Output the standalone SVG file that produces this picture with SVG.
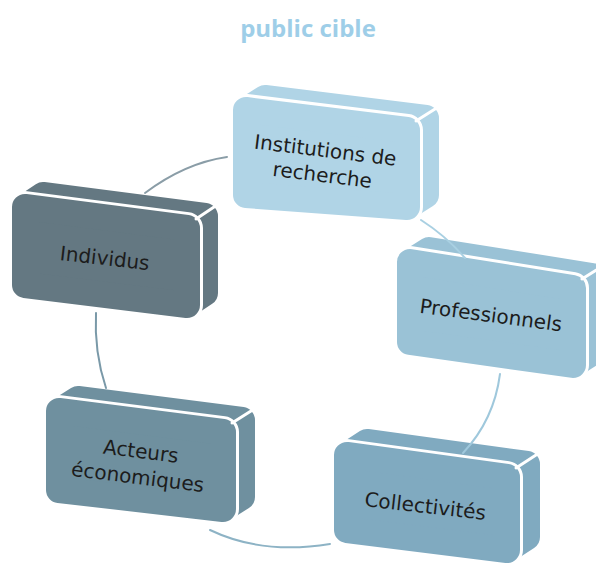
<svg xmlns="http://www.w3.org/2000/svg" width="596" height="566" viewBox="0 0 596 566">
<style>
.body{stroke-width:26;stroke-linejoin:round}
.fw{fill:#fff;stroke:#fff;stroke-width:32;stroke-linejoin:round}
.front{stroke-width:26;stroke-linejoin:round}
.edge{stroke:#fff;stroke-width:3;stroke-linecap:round;fill:none}
.lbl{font-family:"DejaVu Sans",Verdana,sans-serif;font-size:20px;fill:#1c1c1c;text-anchor:middle}
.c1{fill:#b0d4e6;stroke:#b0d4e6}
.c2{fill:#9ac2d6;stroke:#9ac2d6}
.c3{fill:#80aac0;stroke:#80aac0}
.c4{fill:#6f909f;stroke:#6f909f}
.c5{fill:#647882;stroke:#647882}
.conn{fill:none;stroke-width:2;stroke-linecap:round}
</style>
<rect width="596" height="566" fill="#fff"/>
<text x="308" y="37" font-family="'Open Sans','DejaVu Sans',sans-serif" font-weight="bold" font-size="24" fill="#9ecee8" text-anchor="middle">public cible</text>

<g id="node-institutions">
<polygon class="body c1" points="246,195 246,110 265,98 426,118 426,195 407,207"/>
<polygon class="fw" points="246,110 407,130 407,207 246,195"/>
<polygon class="front c1" points="246,110 407,130 407,207 246,195"/>
<line class="edge" x1="416" y1="121" x2="435" y2="109"/>
<g transform="translate(323,170) rotate(7)">
<text class="lbl" x="0" y="-13">Institutions de</text>
<text class="lbl" x="0" y="12">recherche</text>
</g>
</g>

<g id="node-individus">
<polygon class="body c5" points="25,285 25,207 43,195 205,216 205,293 187,305"/>
<polygon class="fw" points="25,207 187,228 187,305 25,285"/>
<polygon class="front c5" points="25,207 187,228 187,305 25,285"/>
<line class="edge" x1="196" y1="219" x2="214" y2="207"/>
<text class="lbl" transform="translate(104,265) rotate(6.5)" x="0" y="0">Individus</text>
</g>

<g id="node-professionnels">
<polygon class="body c2" points="410,342 410,262 429,250 592,276 592,353 573,365"/>
<polygon class="fw" points="410,262 573,288 573,365 410,342"/>
<polygon class="front c2" points="410,262 573,288 573,365 410,342"/>
<line class="edge" x1="582" y1="279" x2="601" y2="267"/>
<text class="lbl" transform="translate(490,322) rotate(7.5)" x="0" y="0">Professionnels</text>
</g>

<g id="node-acteurs">
<polygon class="body c4" points="59,490 59,411 78,399 242,420 242,497 223,509"/>
<polygon class="fw" points="59,411 223,432 223,509 59,490"/>
<polygon class="front c4" points="59,411 223,432 223,509 59,490"/>
<line class="edge" x1="232" y1="423" x2="251" y2="411"/>
<g transform="translate(138.5,471) rotate(7)">
<text class="lbl" x="0" y="-13">Acteurs</text>
<text class="lbl" x="0" y="13">économiques</text>
</g>
</g>

<g id="node-collectivites">
<polygon class="body c3" points="347,530 347,455 367,442 527,464 527,537 507,550"/>
<polygon class="fw" points="347,455 507,477 507,550 347,530"/>
<polygon class="front c3" points="347,455 507,477 507,550 347,530"/>
<line class="edge" x1="516" y1="468" x2="536" y2="455"/>
<text class="lbl" transform="translate(424.5,513) rotate(6.5)" x="0" y="0">Collectivités</text>
</g>

<g id="connectors">
<path class="conn" stroke="#8a9da7" d="M227,157 Q185,163 145,193"/>
<path class="conn" stroke="#7a99a8" d="M96,313 Q94,352 106,388"/>
<path class="conn" stroke="#8db3c5" d="M210,530 Q262,555 330,544"/>
<path class="conn" stroke="#9fc8dc" d="M500,374 Q494,420 463,453"/>
<path class="conn" stroke="#a9d0e2" d="M421,220 Q446,236 465,258"/>
</g>
</svg>
